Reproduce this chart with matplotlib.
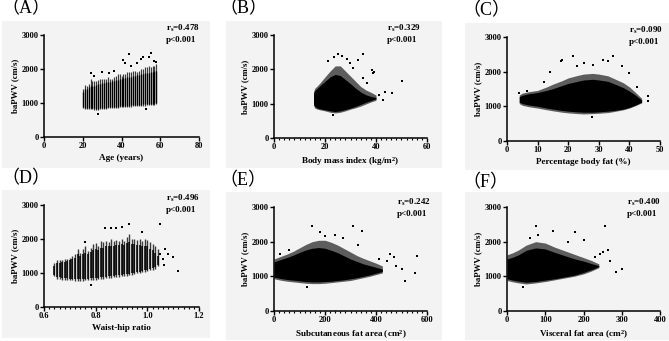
import matplotlib
matplotlib.use('Agg')
import matplotlib.pyplot as plt
from matplotlib.patches import Rectangle
from matplotlib.ticker import MultipleLocator

# ---------------- data ----------------
# (A) Age: per-age stripes of baPWV
A_age = list(range(20, 59))
A_lo  = [840,820,810,810,820,810,800,780,780,810,820,830,830,840,840,850,850,860,860,870,
         870,880,880,890,890,890,900,900,910,910,920,920,920,930,930,940,940,950,970]
A_hi  = [1400,1520,1500,1560,1700,1650,1640,1650,1680,1700,1700,1720,1700,1750,1720,1720,1750,1800,1850,1850,
         1800,1850,1860,1900,1900,1900,1950,1950,1900,1950,2000,2000,2050,2050,2100,2050,2100,2100,2150]
A_clo = [880,860,850,850,850,840,840,830,830,840,850,860,860,870,870,880,880,890,890,900,
         900,910,910,920,920,930,930,940,940,950,950,960,960,970,970,980,980,990,1010]
A_chi = [1330,1420,1420,1460,1500,1500,1510,1530,1550,1570,1580,1600,1610,1620,1630,1640,1650,1670,1690,1700,
         1710,1730,1740,1750,1760,1770,1790,1800,1810,1830,1840,1850,1870,1880,1890,1900,1920,1930,1950]
A_px  = [44.0, 55.2, 24.3, 30.1, 51.3, 41.0, 41.6, 47.8, 28.0, 52.6, 58.0, 33.6, 57.0, 36.0, 45.0, 50.0, 54.0, 26.0]
A_py  = [2441, 2461, 1891, 1921, 2362, 2265, 2167, 2167,  676,  833, 2200, 1890, 2230, 1950, 2100, 2300, 2350, 1800]

# (B) Body mass index
B_x   = [15.5, 16, 17, 18, 20, 22, 24, 26, 28, 30, 32, 34, 36, 38, 40]
B_olo = [950, 870, 840, 820, 790, 750, 730, 750, 790, 840, 880, 930, 990, 1050, 1100]
B_ohi = [1350, 1450, 1520, 1600, 1780, 1950, 2100, 2100, 1950, 1800, 1650, 1500, 1400, 1330, 1250]
B_clo = [980, 920, 870, 850, 820, 790, 770, 790, 830, 870, 920, 980, 1040, 1090, 1140]
B_chi = [1300, 1380, 1450, 1520, 1650, 1780, 1850, 1820, 1700, 1580, 1450, 1340, 1260, 1210, 1180]
B_px  = [25.0, 34.8, 50.3, 46.1, 42.9, 38.9, 38.3, 39.2, 23.5, 26.5, 33.1, 29.8, 23.3, 43.5, 41.0, 36.5, 21.0, 28.5, 31.0, 35.0]
B_py  = [2438, 2447, 1660, 1301, 1107, 1903, 1981, 1913, 2370, 2380, 2272, 2175, 670, 1349, 1250, 1600, 2250, 2300, 2050, 1750]

# (C) Percentage body fat
C_x   = [4, 5, 7, 10, 13, 15, 18, 20, 23, 25, 28, 30, 33, 35, 38, 40, 42, 44]
C_olo = [1080, 1030, 990, 950, 900, 870, 830, 810, 790, 780, 790, 800, 820, 850, 900, 950, 1020, 1100]
C_ohi = [1330, 1380, 1420, 1460, 1560, 1640, 1740, 1820, 1890, 1930, 1950, 1930, 1880, 1800, 1680, 1560, 1400, 1230]
C_clo = [1120, 1080, 1040, 1000, 950, 920, 880, 860, 840, 830, 830, 840, 860, 880, 920, 970, 1040, 1120]
C_chi = [1280, 1320, 1360, 1400, 1460, 1510, 1600, 1660, 1720, 1760, 1780, 1760, 1720, 1650, 1540, 1440, 1320, 1180]
C_px  = [21.6, 18.1, 17.6, 34.6, 31.4, 46.1, 46.0, 3.8, 4.7, 27.9, 25.0, 28.0, 37.5, 40.0, 42.5, 14.0, 6.5, 12.0, 33.0, 23.0]
C_py  = [2443, 2328, 2300, 2443, 2328, 1145, 1300, 1385, 1250, 692, 2250, 2200, 2150, 1950, 1550, 2000, 1450, 1700, 2300, 2150]

# (D) Waist-hip ratio: stripes at 0.01 steps
D_x   = [0.64,0.65,0.66,0.67,0.68,0.69,0.70,0.71,0.72,0.73,0.74,0.75,0.76,0.77,0.78,0.79,0.80,0.81,0.82,0.83,
         0.84,0.85,0.86,0.87,0.88,0.89,0.90,0.91,0.92,0.93,0.94,0.95,0.96,0.97,0.98,0.99,1.00,1.01,1.02,1.03,1.04]
D_lo  = [900,830,820,800,800,790,780,780,770,770,770,770,780,780,790,790,800,810,820,830,
         840,850,860,870,880,890,900,910,920,930,950,970,990,1000,1020,1040,1060,1080,1100,1130,1200]
D_hi  = [1300,1380,1370,1390,1400,1420,1450,1500,1560,1720,1600,1700,1800,1650,1750,1850,1870,1800,1950,1900,
         1950,1900,2000,1950,1980,1950,2000,1950,2050,2150,2000,2000,1980,2000,1950,2000,1970,1900,1850,1780,1700]
D_clo = [950,880,870,850,850,840,830,830,820,820,820,820,830,830,840,840,850,860,870,880,
         890,900,910,920,930,940,950,960,970,980,1000,1010,1030,1040,1060,1080,1100,1120,1140,1170,1250]
D_chi = [1200,1300,1300,1320,1330,1350,1380,1420,1450,1550,1500,1560,1600,1550,1620,1680,1700,1680,1750,1750,
         1780,1780,1800,1800,1820,1820,1850,1830,1870,1900,1850,1850,1830,1830,1800,1800,1780,1720,1680,1600,1500]
D_px  = [1.049, 0.930, 1.120, 1.098, 1.080, 1.060, 1.050, 1.065, 0.781, 0.836, 0.860, 0.880, 0.900, 0.980, 1.070, 0.760]
D_py  = [2441, 2431, 1059, 1480, 1560, 1420, 1560, 1250, 647, 2313, 2313, 2313, 2340, 2200, 1700, 1900]

# (E) Subcutaneous fat area
E_x   = [0, 25, 50, 75, 100, 125, 150, 175, 200, 225, 250, 275, 300, 325, 350, 375, 400, 425]
E_olo = [930, 890, 860, 840, 820, 800, 790, 790, 800, 820, 840, 860, 880, 920, 960, 1000, 1050, 1100]
E_ohi = [1500, 1570, 1640, 1720, 1820, 1920, 2000, 2040, 2040, 1980, 1900, 1800, 1700, 1600, 1520, 1450, 1380, 1300]
E_clo = [980, 940, 910, 890, 870, 850, 840, 840, 850, 860, 880, 900, 930, 960, 1000, 1040, 1090, 1140]
E_chi = [1420, 1480, 1540, 1610, 1690, 1760, 1810, 1830, 1810, 1750, 1680, 1590, 1500, 1430, 1360, 1310, 1260, 1210]
E_px  = [147.7, 308.5, 343.8, 559.5, 553.0, 513.7, 455.0, 443.0, 180.0, 239.0, 128.0, 23.5, 480.0, 500.0, 470.0, 60.0, 410.0, 270.0, 330.0, 200.0]
E_py  = [2443, 2443, 2299, 1578, 1096, 856, 1640, 1450, 2290, 2200, 692, 1653, 1300, 1200, 1550, 1750, 1500, 2100, 1900, 2150]

# (F) Visceral fat area
F_x   = [0, 15, 30, 50, 75, 100, 125, 150, 175, 200, 220, 240]
F_olo = [880, 840, 810, 780, 810, 850, 900, 950, 1000, 1070, 1150, 1250]
F_ohi = [1620, 1680, 1760, 1900, 2000, 1960, 1840, 1740, 1640, 1540, 1460, 1360]
F_clo = [930, 890, 860, 830, 850, 890, 930, 980, 1030, 1110, 1190, 1280]
F_chi = [1500, 1550, 1620, 1750, 1820, 1790, 1690, 1600, 1510, 1440, 1370, 1310]
F_px  = [255.4, 76.7, 177.0, 301.5, 285.8, 269.0, 251.0, 243.0, 82.0, 41.8, 265.0, 230.0, 160.0, 120.0, 200.0, 60.0]
F_py  = [2443, 2443, 2279, 1221, 1125, 1450, 1702, 1650, 2200, 692, 1750, 1550, 2000, 2300, 2050, 2100]

rs_text = ['0.478', '0.329', '0.090', '0.496', '0.242', '0.400']
xlabels = ['Age (years)', 'Body mass index (kg/m$^2$)', 'Percentage body fat (%)',
           'Waist-hip ratio', 'Subcutaneous fat area (cm$^2$)', 'Visceral fat area (cm$^2$)']
panel_tags = ['（A）', '（B）', '（C）', '（D）', '（E）', '（F）']

# ---------------- style ----------------
W, H = 669, 341
plt.rcParams['font.family'] = ['Liberation Serif', 'Noto Sans CJK SC']
plt.rcParams['mathtext.fontset'] = 'custom'
plt.rcParams['mathtext.rm'] = 'Liberation Serif:bold'
plt.rcParams['mathtext.it'] = 'Liberation Serif:bold'
plt.rcParams['mathtext.bf'] = 'Liberation Serif:bold'

fig = plt.figure(figsize=(W / 100, H / 100), dpi=100)

def pxrect(x0, y0, x1, y1):
    return [x0 / W, 1 - y1 / H, (x1 - x0) / W, (y1 - y0) / H]

# light grey panel backgrounds
for (x0, y0, x1, y1) in [(2, 21, 210, 168), (226, 21, 442, 168), (465, 23, 669, 170),
                         (2, 190, 210, 338), (226, 192, 442, 340), (465, 192, 669, 340)]:
    r = pxrect(x0, y0, x1, y1)
    fig.add_artist(Rectangle((r[0], r[1]), r[2], r[3], transform=fig.transFigure,
                             facecolor='#f3f3f3', edgecolor='none', zorder=0))

boxes = [(44, 35, 199, 137), (274, 35, 427, 138), (507, 37, 660, 141),
         (44, 205, 199, 307), (274, 207, 427, 311), (507, 207, 660, 311)]
xlims = [(0, 80), (0, 60), (0, 50), (0.6, 1.2), (0, 600), (0, 400)]
xmaj = [20, 20, 10, 0.2, 200, 100]
xmin = [None, 2, None, 0.02, 20, None]
fmts = ['{:.0f}', '{:.0f}', '{:.0f}', '{:.1f}', '{:.0f}', '{:.0f}']

axes = []
for i, (x0, y0, x1, y1) in enumerate(boxes):
    ax = fig.add_axes(pxrect(x0, y0, x1, y1))
    ax.set_facecolor('none')
    ax.set_xlim(*xlims[i])
    ax.set_ylim(0, 3000)
    ax.set_yticks([0, 1000, 2000, 3000])
    ax.xaxis.set_major_locator(MultipleLocator(xmaj[i]))
    if xmin[i]:
        ax.xaxis.set_minor_locator(MultipleLocator(xmin[i]))
    lo, hi = xlims[i]
    ticks = [t for t in ax.get_xticks() if lo - 1e-9 <= t <= hi + 1e-9]
    ax.set_xticks(ticks)
    ax.set_xticklabels([fmts[i].format(t) for t in ticks])
    for s in ['top', 'right']:
        ax.spines[s].set_visible(False)
    for s in ['left', 'bottom']:
        ax.spines[s].set_linewidth(1.1)
    ax.tick_params(which='major', length=2.6, width=1.0, pad=1.2, labelsize=6)
    ax.tick_params(which='minor', length=1.6, width=0.8)
    for lab in ax.get_xticklabels() + ax.get_yticklabels():
        lab.set_fontweight('bold')
    ax.set_ylabel('baPWV (cm/s)', fontsize=6.3, fontweight='bold', labelpad=2)
    ax.set_xlabel(xlabels[i], fontsize=6.6, fontweight='bold', labelpad=3)
    axes.append(ax)

halo = dict(color='#1e1e1e', alpha=0.7, linewidth=0)
core = dict(color='black', linewidth=0)
dot = dict(s=0.7, c='black', marker='s', linewidths=0)

# (A)
ax = axes[0]
ax.vlines(A_age, A_lo, A_hi, color='#3a3a3a', linewidth=0.85)
ax.vlines(A_age, A_clo, A_chi, color='black', linewidth=0.95)
ax.scatter(A_px, A_py, **dot)
# (B)
ax = axes[1]
ax.fill_between(B_x, B_olo, B_ohi, **halo)
ax.fill_between(B_x, B_clo, B_chi, **core)
ax.scatter(B_px, B_py, **dot)
# (C)
ax = axes[2]
ax.fill_between(C_x, C_olo, C_ohi, **halo)
ax.fill_between(C_x, C_clo, C_chi, **core)
ax.scatter(C_px, C_py, **dot)
# (D)
ax = axes[3]
ax.vlines(D_x, D_lo, D_hi, color='#3a3a3a', linewidth=1.0)
ax.vlines(D_x, D_clo, D_chi, color='black', linewidth=1.1)
ax.scatter(D_px, D_py, **dot)
# (E)
ax = axes[4]
ax.fill_between(E_x, E_olo, E_ohi, **halo)
ax.fill_between(E_x, E_clo, E_chi, **core)
ax.scatter(E_px, E_py, **dot)
# (F)
ax = axes[5]
ax.fill_between(F_x, F_olo, F_ohi, **halo)
ax.fill_between(F_x, F_clo, F_chi, **core)
ax.scatter(F_px, F_py, **dot)

# annotations
ann_pos = [(166, 28), (387, 28), (629, 30), (166, 198), (397, 202), (627, 202)]
for (x, y), r in zip(ann_pos, rs_text):
    fig.text(x / W, 1 - y / H, r'r$_\mathrm{s}$=' + r, fontsize=6.5, fontweight='bold',
             ha='left', va='center')
    fig.text(x / W, 1 - (y + 11.5) / H, 'p<0.001', fontsize=6.5, fontweight='bold',
             ha='left', va='center')

# panel tags
tag_pos = [(1, 0), (219, 0), (462, 2), (1, 170), (219, 172), (462, 174)]
for (x, y), t in zip(tag_pos, panel_tags):
    fig.text(x / W, 1 - y / H, t, fontsize=13, ha='left', va='top',
             family=['Liberation Serif', 'Noto Sans CJK SC'])

fig.savefig('out.png', dpi=100, facecolor='white')
